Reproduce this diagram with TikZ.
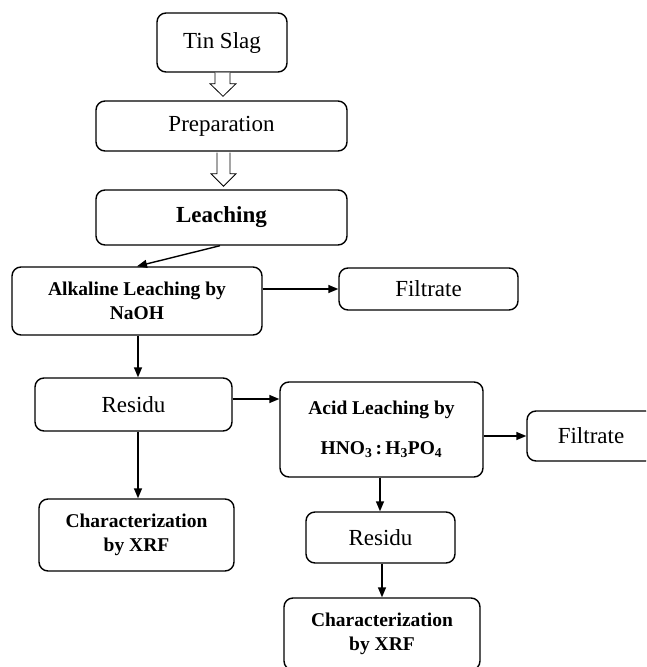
\documentclass[tikz,border=0pt]{standalone}
\usepackage{fontspec}
\setmainfont{Liberation Serif}
\usetikzlibrary{arrows.meta,calc}
\begin{document}
\begin{tikzpicture}[x=1pt,y=-1pt,
  box/.style={draw, rounded corners=9pt, line width=1.4pt, inner sep=0pt, align=center,
    font=\fontsize{23}{27}\selectfont},
  bbox/.style={box, font=\fontsize{19.5}{24}\selectfont\bfseries},
  arr/.style={line width=1.4pt, -{Triangle[length=10pt,width=8pt]}},
  hollow/.style={draw, line width=0.8pt, fill=white}]
\useasboundingbox (0,0) rectangle (646,667);
\clip (0,0) rectangle (646,667);
\node[box, minimum width=130pt, minimum height=59pt] (tin) at (222,42.5) {Tin Slag};
\node[box, minimum width=251pt, minimum height=50pt] (prep) at (221.5,126) {Preparation};
\node[box, minimum width=251pt, minimum height=55pt, font=\fontsize{23}{27}\selectfont\bfseries] (leach) at (221.5,217.5) {Leaching};
\node[bbox, minimum width=250pt, minimum height=68pt] (alk) at (137,301) {Alkaline Leaching by\\NaOH};
\node[box, minimum width=179pt, minimum height=42pt] (filt1) at (428.5,289) {Filtrate};
\node[box, minimum width=197pt, minimum height=53pt] (res1) at (133.5,404.5) {Residu};
\node[bbox, minimum width=203pt, minimum height=95pt] (acid) at (381.5,429.5) {Acid Leaching by\\[16pt]HNO\textsubscript{3}\,:\,H\textsubscript{3}PO\textsubscript{4}};
\node[box, minimum width=128pt, minimum height=50pt] (filt2) at (591,436) {Filtrate};
\node[box, minimum width=149pt, minimum height=51pt] (res2) at (380.5,537.5) {Residu};
\node[bbox, minimum width=195pt, minimum height=72pt] (char1) at (136.5,535) {Characterization\\by XRF};
\node[bbox, minimum width=196pt, minimum height=72pt] (char2) at (382,634) {Characterization\\by XRF};
% hollow arrows
\draw[hollow] ($(tin.south)+(-7,0)$) -- ++(0,11) -- ++(-5,0) -- ($(prep.north)+(1.5,-4)$)
  -- ($(tin.south)+(14,11)$) -- ++(-6,0) -- ++(0,-11);
\draw[hollow] ($(prep.south)+(-4.5,1)$) -- ++(0,21) -- ++(-6,0) -- ($(leach.north)+(2,-3)$)
  -- ($(prep.south)+(14.5,22)$) -- ++(-6,0) -- ++(0,-21);
% connectors
\draw[arr] ([xshift=-1.5pt]leach.south) -- (alk.north);
\draw[arr] (alk.east |- filt1.west) -- (filt1.west);
\draw[arr] ([xshift=1pt]alk.south) -- ([xshift=1pt]alk.south |- res1.north);
\draw[arr] ([yshift=5.5pt]res1.east) -- ([yshift=5.5pt]res1.east -| acid.west);
\draw[arr] (acid.east |- filt2.west) -- (filt2.west);
\draw[arr] ([xshift=1.5pt]res1.south -| char1.north) -- ([xshift=1.5pt]char1.north);
\draw[arr] ([xshift=-1.5pt]acid.south) -- ([xshift=-1.5pt]acid.south |- res2.north);
\draw[arr] (res2.south -| char2.north) -- (char2.north);
\end{tikzpicture}
\end{document}
